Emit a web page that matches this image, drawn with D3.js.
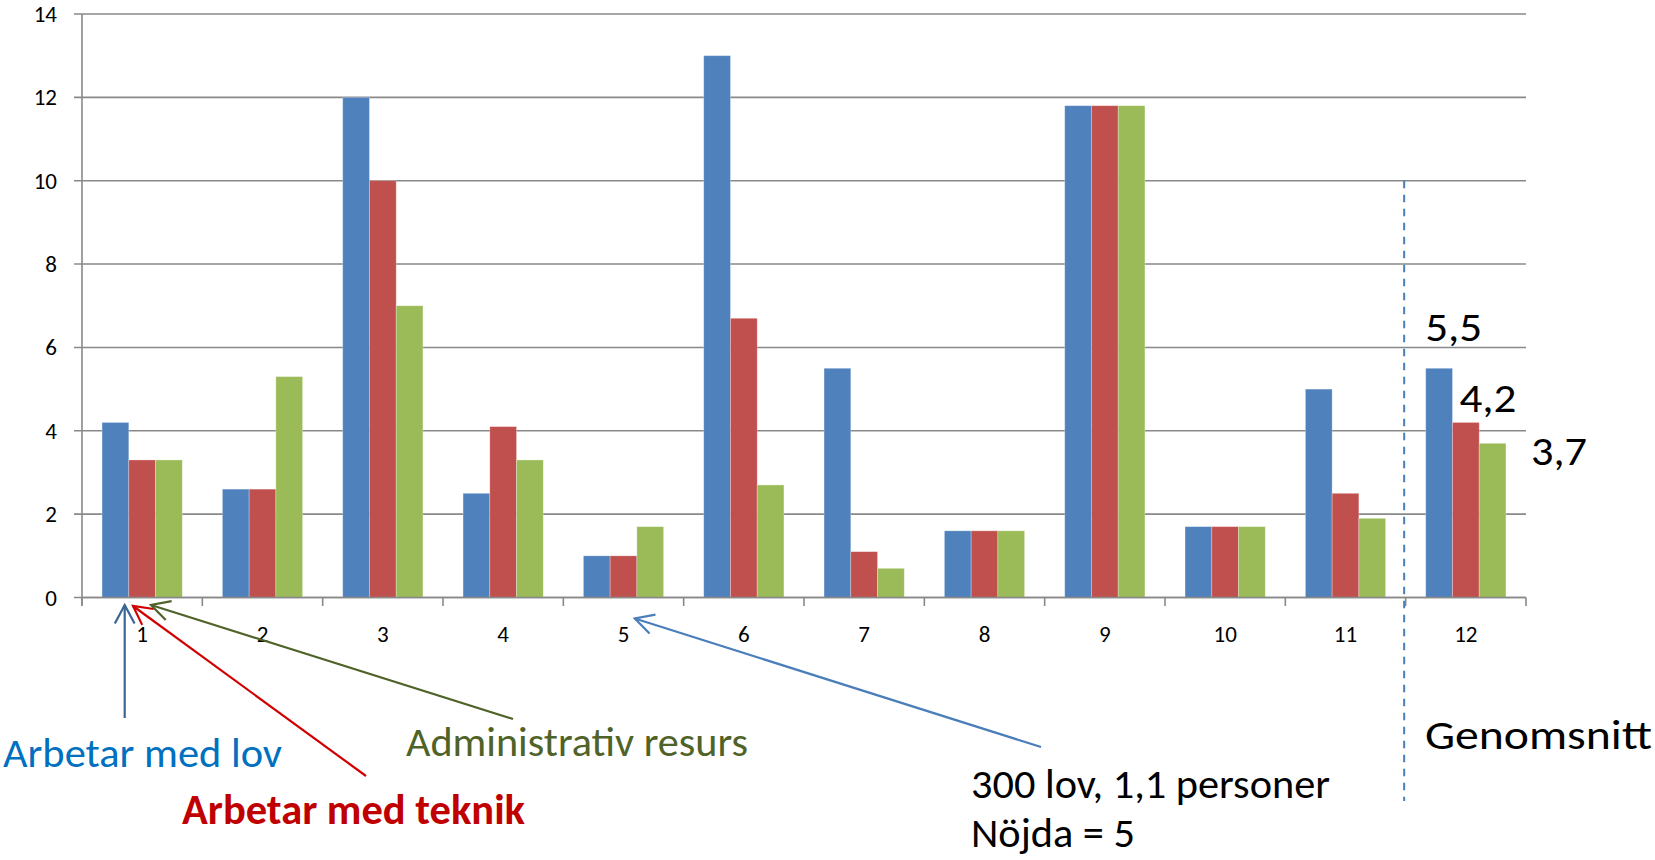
<!DOCTYPE html>
<html>
<head>
<meta charset="utf-8">
<script src="https://cdn.jsdelivr.net/npm/d3@7"></script>
<style>
  html, body { margin: 0; padding: 0; background: #ffffff; overflow: hidden; }
  svg { display: block; }
  text { font-family: Carlito, Lato, "Open Sans", sans-serif; }
</style>
</head>
<body>
<svg id="chart" width="1655" height="860"></svg>
<script>
// ---- data ----
const categories = ["1","2","3","4","5","6","7","8","9","10","11","12"];
const seriesNames = ["Arbetar med lov", "Arbetar med teknik", "Administrativ resurs"];
const lovValues    = [4.2, 2.6, 12, 2.5, 1.0, 13, 5.5, 1.6, 11.8, 1.7, 5.0, 5.5];
const teknikValues = [3.3, 2.6, 10, 4.1, 1.0, 6.7, 1.1, 1.6, 11.8, 1.7, 2.5, 4.2];
const adminValues  = [3.3, 5.3, 7, 3.3, 1.7, 2.7, 0.7, 1.6, 11.8, 1.7, 1.9, 3.7];
const yTickValues  = [0, 2, 4, 6, 8, 10, 12, 14];
const seriesColors = ["#4F81BD", "#C0504D", "#9BBB59"];
const averageCategory = "12";
const noteLines = ["300 lov, 1,1 personer", "Nöjda = 5"];
const averageLabel = "Genomsnitt";

const seriesValues = [lovValues, teknikValues, adminValues];

// ---- layout ----
const svg = d3.select("#chart");
const plot = { left: 82, right: 1526, top: 14, bottom: 597.5 };

const x = d3.scaleBand().domain(categories).range([plot.left, plot.right]).paddingInner(0).paddingOuter(0);
const xs = d3.scaleBand().domain(seriesNames).range([0, x.bandwidth()]).paddingInner(0).paddingOuter(0.75);
const y = d3.scaleLinear().domain([0, 14]).range([plot.bottom, plot.top]);

const gridColor = "#898989";

// gridlines
svg.append("g").selectAll("line").data(yTickValues).join("line")
  .attr("x1", plot.left - 8).attr("x2", plot.right)
  .attr("y1", d => y(d)).attr("y2", d => y(d))
  .attr("stroke", gridColor).attr("stroke-width", 1.6);

// y axis line
svg.append("line")
  .attr("x1", plot.left).attr("x2", plot.left)
  .attr("y1", y(14)).attr("y2", y(0) + 8)
  .attr("stroke", gridColor).attr("stroke-width", 1.6);

// y tick labels
svg.append("g").selectAll("text").data(yTickValues).join("text")
  .attr("x", 57).attr("y", d => y(d) + 8)
  .attr("text-anchor", "end")
  .attr("font-size", 23).attr("fill", "#000")
  .text(d => d);

// bars
const rows = categories.map((c, i) => ({ cat: c, vals: seriesNames.map((s, j) => ({ s, j, v: seriesValues[j][i] })) }));
const groups = svg.append("g").selectAll("g").data(rows).join("g")
  .attr("transform", d => `translate(${x(d.cat)},0)`);
groups.selectAll("rect").data(d => d.vals).join("rect")
  .attr("x", d => xs(d.s))
  .attr("width", xs.bandwidth())
  .attr("y", d => y(d.v))
  .attr("height", d => y(0) - y(d.v))
  .attr("fill", d => seriesColors[d.j])
  .attr("stroke", "rgba(255,255,255,0.35)")
  .attr("stroke-width", 0.8);

// x axis line + ticks
svg.append("line")
  .attr("x1", plot.left).attr("x2", plot.right)
  .attr("y1", y(0)).attr("y2", y(0))
  .attr("stroke", gridColor).attr("stroke-width", 1.6);
const boundaries = categories.map(c => x(c)).concat([plot.right]);
svg.append("g").selectAll("line").data(boundaries).join("line")
  .attr("x1", d => d).attr("x2", d => d)
  .attr("y1", y(0)).attr("y2", y(0) + 8.5)
  .attr("stroke", gridColor).attr("stroke-width", 1.6);

// x tick labels
svg.append("g").selectAll("text").data(categories).join("text")
  .attr("x", d => x(d) + x.bandwidth() / 2)
  .attr("y", 641.5)
  .attr("text-anchor", "middle")
  .attr("font-size", 23).attr("fill", "#000")
  .text(d => d);

// dashed separator before average category
const sepX = x(averageCategory) - 1.5;
svg.append("line")
  .attr("x1", sepX).attr("x2", sepX)
  .attr("y1", y(10)).attr("y2", 801)
  .attr("stroke", "#4A7EBB").attr("stroke-width", 2)
  .attr("stroke-dasharray", "7.5 6.5");

// average value labels
const avgIdx = categories.indexOf(averageCategory);
const fmt = v => String(v).replace(".", ",");
const bigFont = 42;
function bigText(str, tx, ty, width, color, weight) {
  svg.append("text")
    .attr("x", tx).attr("y", ty)
    .attr("font-size", bigFont)
    .attr("font-weight", weight || "normal")
    .attr("fill", color)
    .attr("textLength", width)
    .attr("lengthAdjust", "spacingAndGlyphs")
    .text(str);
}
const x12 = x(averageCategory);
bigText(fmt(lovValues[avgIdx]),    x12 + xs(seriesNames[0]) - 0.5, y(lovValues[avgIdx]) - 27, 57, "#000");
bigText(fmt(teknikValues[avgIdx]), x12 + xs(seriesNames[1]) + 7,   y(teknikValues[avgIdx]) - 10, 57, "#000");
bigText(fmt(adminValues[avgIdx]),  x12 + xs(seriesNames[2]) + xs.bandwidth() + 25, y(adminValues[avgIdx]) + 22, 56, "#000");

// annotations
bigText(seriesNames[0], 3, 767, 279, "#0070C0");
bigText(seriesNames[1], 182, 824, 343, "#C00000", "bold");
bigText(seriesNames[2], 406, 756, 342, "#4F6228");
bigText(noteLines[0], 971, 798, 359, "#000");
bigText(noteLines[1], 971, 847, 164, "#000");
bigText(averageLabel, 1425, 749, 227, "#000");

// arrows (open V heads)
function arrow(x1, y1, x2, y2, color, w) {
  svg.append("line").attr("x1", x1).attr("y1", y1).attr("x2", x2).attr("y2", y2)
    .attr("stroke", color).attr("stroke-width", w);
  const ang = Math.atan2(y1 - y2, x1 - x2);
  const L = 21, a = 28 * Math.PI / 180;
  const p1 = [x2 + L * Math.cos(ang + a), y2 + L * Math.sin(ang + a)];
  const p2 = [x2 + L * Math.cos(ang - a), y2 + L * Math.sin(ang - a)];
  svg.append("path")
    .attr("d", `M${p1[0]},${p1[1]} L${x2},${y2} L${p2[0]},${p2[1]}`)
    .attr("fill", "none").attr("stroke", color).attr("stroke-width", w)
    .attr("stroke-linejoin", "miter");
}
const x1 = x("1"), x5 = x("5");
arrow(x1 + 42.7, 718, x1 + 42.7, 605, "#3B6496", 2.2);
arrow(366, 776, x1 + 51, 606, "#D00000", 2.2);
arrow(513, 719, x1 + 69, 605, "#4F6228", 2.2);
arrow(1041, 747, x5 + 71.5, 618.5, "#4A7EBB", 2.2);
</script>
</body>
</html>
